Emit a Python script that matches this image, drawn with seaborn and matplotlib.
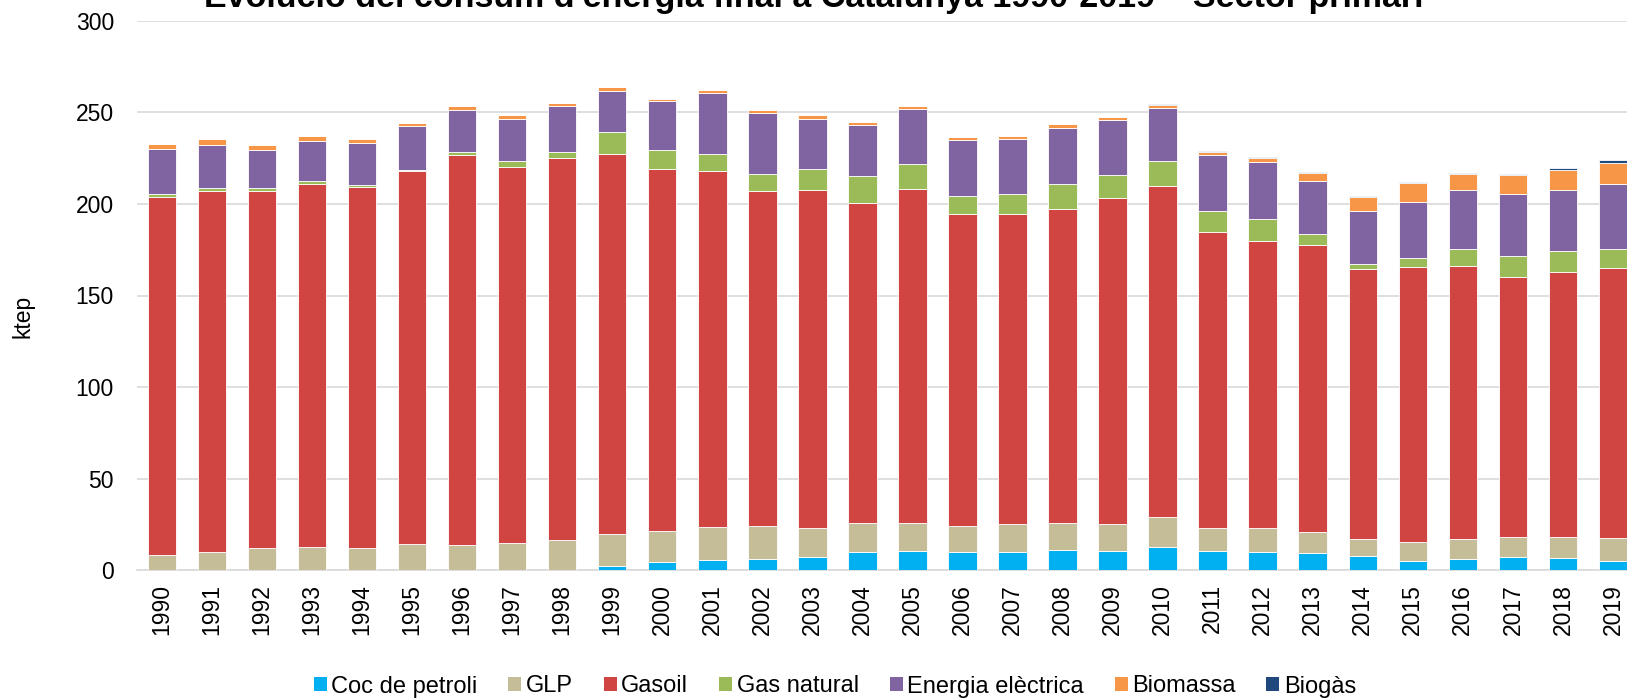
import matplotlib
matplotlib.use("Agg")
import matplotlib.pyplot as plt
from matplotlib.patches import Patch
import seaborn as sns
import numpy as np
import pandas as pd

years = [str(y) for y in range(1990, 2020)]

coc_petroli = [0, 0, 0, 0, 0.2, 0, 0, 0, 0.3, 2.5,
               4.7, 5.6, 6.0, 7.5, 10.2, 10.6, 10.0, 10.0, 10.9, 10.6,
               12.7, 10.6, 10.2, 9.6, 8.0, 5.3, 6.4, 7.3, 6.6, 5.3]
glp = [8.4, 10.2, 12.0, 12.9, 12.0, 14.2, 14.0, 15.1, 16.3, 17.2,
       16.6, 18.2, 18.2, 15.6, 15.8, 15.2, 14.4, 15.3, 14.8, 14.5,
       16.6, 12.7, 12.7, 11.5, 9.1, 10.0, 10.5, 11.1, 11.8, 12.5]
gasoil = [195.6, 196.9, 195.1, 198.0, 197.2, 203.6, 212.9, 205.2, 208.7, 207.7,
          197.6, 194.4, 183.0, 184.3, 174.7, 182.2, 170.3, 169.4, 171.7, 178.3,
          180.5, 161.6, 157.1, 156.7, 147.2, 150.5, 149.4, 141.5, 144.6, 147.4]
gas_natural = [1.2, 1.4, 1.4, 1.6, 0.9, 0.9, 1.4, 3.0, 3.2, 11.7,
               10.4, 9.1, 9.0, 11.8, 14.5, 14.0, 9.8, 10.7, 13.5, 12.4,
               13.6, 11.2, 11.8, 5.8, 3.1, 4.5, 8.9, 11.7, 11.5, 10.2]
energia_electrica = [25.0, 23.9, 21.1, 22.0, 23.1, 23.7, 23.2, 23.2, 25.0, 22.5,
                     26.7, 33.1, 33.6, 27.3, 27.7, 29.6, 30.6, 30.2, 30.7, 29.8,
                     29.1, 30.8, 31.1, 29.1, 28.9, 30.8, 32.6, 33.8, 33.3, 35.7]
biomassa = [2.7, 2.9, 2.6, 2.6, 2.0, 2.0, 2.1, 2.0, 1.8, 2.0,
            1.5, 1.8, 1.7, 1.9, 1.6, 1.7, 1.3, 1.5, 1.8, 1.7,
            1.7, 1.6, 2.4, 4.0, 7.7, 10.5, 8.7, 10.6, 10.9, 11.4]
biogas = [0, 0, 0, 0, 0, 0, 0, 0, 0, 0,
          0, 0, 0, 0, 0, 0, 0, 0, 0, 0.3,
          0.3, 0.6, 0.5, 0.7, 0.5, 0.6, 0.4, 0.3, 1.1, 1.5]

series_names = ["Coc de petroli", "GLP", "Gasoil", "Gas natural",
                "Energia elèctrica", "Biomassa", "Biogàs"]
series_values = [coc_petroli, glp, gasoil, gas_natural,
                 energia_electrica, biomassa, biogas]
colors = ["#00B0F0", "#C4BD97", "#D04442", "#9BBB59",
          "#8064A2", "#F79646", "#1F497D"]

title = "Evolució del consum d'energia final a Catalunya 1990-2019 – Sector primari"
ylabel = "ktep"

sns.set_theme(style="white")
plt.rcParams["font.family"] = ["Liberation Sans", "DejaVu Sans"]

W, H = 1627, 698
fig = plt.figure(figsize=(W / 100, H / 100), dpi=100)
ax_left = 136.8 / W
ax_right = 1638.0 / W
ax_bottom = 1 - 570.3 / H
ax_top = 1 - 20.7 / H
ax = fig.add_axes([ax_left, ax_bottom, ax_right - ax_left, ax_top - ax_bottom])

bottom = np.zeros(len(years))
for name, vals, col in zip(series_names, series_values, colors):
    df = pd.DataFrame({"year": years, "value": vals})
    sns.barplot(data=df, x="year", y="value", color=col, width=0.57,
                bottom=bottom, ax=ax, errorbar=None, saturation=1,
                edgecolor="white", linewidth=0.6, zorder=3)
    bottom = bottom + np.array(vals)

ax.set_xlim(-0.5, len(years) - 0.5)
ax.set_ylim(0, 300)
ax.set_yticks(np.arange(0, 301, 50))
ax.yaxis.grid(True, color="#D9D9D9", linewidth=1.2, zorder=0)
ax.xaxis.grid(False)
ax.set_axisbelow(True)
for s in ["top", "right", "left"]:
    ax.spines[s].set_visible(False)
ax.spines["bottom"].set_color("#D9D9D9")
ax.spines["bottom"].set_linewidth(1.2)
ax.set_xlabel("")
ax.set_ylabel("")
ax.tick_params(axis="y", length=0, pad=16.5, labelsize=16.5, labelcolor="black")
ax.tick_params(axis="x", length=0, pad=10, labelsize=16.5, labelcolor="black",
               labelrotation=90)

fig.text(23 / W, 1 - 316 / H, ylabel, rotation=90, ha="center", va="center",
         fontsize=16.5, color="black")
fig.text(0.5, 1 - 7.5 / H, title, ha="center", va="baseline",
         fontsize=24.5, fontweight="bold", color="black")

handles = [Patch(facecolor=c, edgecolor="none", label=n)
           for n, c in zip(series_names, colors)]
leg = fig.legend(handles=handles, loc="center", ncol=7, frameon=False,
                 bbox_to_anchor=(835 / W, 1 - 686.5 / H), fontsize=17,
                 handlelength=0.55, handleheight=0.55, handletextpad=0.2,
                 columnspacing=1.3, borderaxespad=0, borderpad=0)
for t in leg.get_texts():
    t.set_color("black")

fig.savefig("out.png", dpi=100)
